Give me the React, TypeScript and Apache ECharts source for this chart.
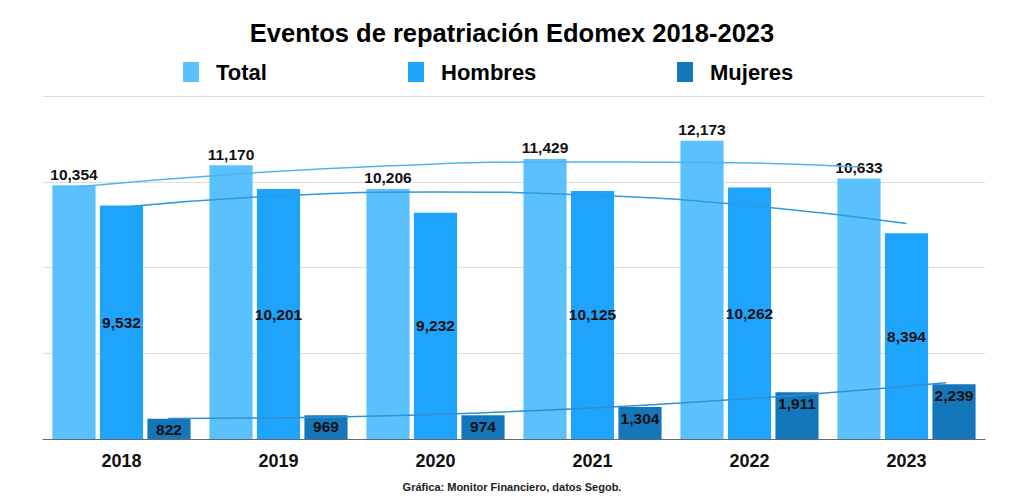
import React, { useEffect, useRef } from "react";
import * as echarts from "echarts";

const years = ["2018", "2019", "2020", "2021", "2022", "2023"];
const total = [10354, 11170, 10206, 11429, 12173, 10633];
const hombres = [9532, 10201, 9232, 10125, 10262, 8394];
const mujeres = [822, 969, 974, 1304, 1911, 2239];
// Trendline values at each year
const totalTrend = [10300, 10810, 11150, 11310, 11290, 11100];
const hombresTrend = [9460, 9920, 10080, 9950, 9525, 8800];
const mujeresTrend = [835, 890, 1065, 1360, 1770, 2300];

const FONT = "'Liberation Sans', Arial, sans-serif";
const C_TOTAL = "#5bc1fc";
const C_HOM = "#1ea4fc";
const C_MUJ = "#1477bb";

const fmt = (v: number) => v.toLocaleString("en-US");

export default function App() {
  const ref = useRef<HTMLDivElement>(null);
  useEffect(() => {
    if (!ref.current) return;
    const chart = echarts.init(ref.current, undefined, { renderer: "svg" });
    const shift = 47.5;
    const gridBase = { top: 96, bottom: 60 };
    const yBase = {
      type: "value" as const,
      min: 0,
      max: 14000,
      interval: 3500,
      axisLabel: { show: false },
      axisLine: { show: false },
      axisTick: { show: false },
    };
    const xHidden = {
      type: "category" as const,
      data: years,
      boundaryGap: true,
      show: false,
    };
    const legendBase = {
      top: 61,
      padding: 0,
      itemWidth: 16,
      itemHeight: 20,
      icon: "rect",
      textStyle: { fontFamily: FONT, fontSize: 22, fontWeight: "bold", color: "#000", padding: [0, 0, 0, 12] },
    };
    chart.setOption({
      animation: false,
      backgroundColor: "#fff",
      title: {
        text: "Eventos de repatriación Edomex 2018-2023",
        left: "center",
        top: 15,
        textStyle: { fontFamily: FONT, fontSize: 25.5, fontWeight: "bold", color: "#000" },
      },
      legend: [
        { ...legendBase, left: 183, data: ["Total"] },
        { ...legendBase, left: 408, data: ["Hombres"] },
        { ...legendBase, left: 677, data: ["Mujeres"] },
      ],
      grid: [
        { ...gridBase, left: 43, right: 39 },
        { ...gridBase, left: 43 - shift, right: 39 + shift },
        { ...gridBase, left: 43 + shift, right: 39 - shift },
      ],
      xAxis: [
        {
          type: "category",
          data: years,
          gridIndex: 0,
          axisTick: { show: false },
          axisLine: { lineStyle: { color: "#666", width: 1 } },
          axisLabel: { fontFamily: FONT, fontSize: 18, fontWeight: "bold", color: "#111", margin: 13 },
        },
        { ...xHidden, gridIndex: 1 },
        { ...xHidden, gridIndex: 2 },
      ],
      yAxis: [
        { ...yBase, gridIndex: 0, splitLine: { lineStyle: { color: "#dddddd", width: 1 } } },
        { ...yBase, gridIndex: 1, splitLine: { show: false } },
        { ...yBase, gridIndex: 2, splitLine: { show: false } },
      ],
      series: [
        {
          name: "Total",
          type: "bar",
          data: total,
          itemStyle: { color: C_TOTAL },
          barGap: "10%",
          barCategoryGap: "12%",
          label: {
            show: true,
            position: "top",
            distance: 3,
            fontFamily: FONT,
            fontSize: 15.5,
            fontWeight: "bold",
            color: "#111",
            formatter: (p: any) => fmt(p.value),
          },
        },
        {
          name: "Hombres",
          type: "bar",
          data: hombres,
          itemStyle: { color: C_HOM },
          barGap: "10%",
          barCategoryGap: "12%",
          label: {
            show: true,
            position: "inside",
            fontFamily: FONT,
            fontSize: 15.5,
            fontWeight: "bold",
            color: "#111",
            formatter: (p: any) => fmt(p.value),
          },
        },
        {
          name: "Mujeres",
          type: "bar",
          data: mujeres,
          itemStyle: { color: C_MUJ },
          barGap: "10%",
          barCategoryGap: "12%",
          label: {
            show: true,
            position: "insideTop",
            distance: 3,
            fontFamily: FONT,
            fontSize: 15.5,
            fontWeight: "bold",
            color: "#111",
            formatter: (p: any) => fmt(p.value),
          },
        },
        {
          name: "Tendencia Total",
          type: "line",
          xAxisIndex: 1,
          yAxisIndex: 1,
          data: totalTrend,
          smooth: true,
          symbol: "none",
          z: 5,
          lineStyle: { color: "#4fb3ef", width: 1.5 },
          silent: true,
        },
        {
          name: "Tendencia Hombres",
          type: "line",
          xAxisIndex: 0,
          yAxisIndex: 0,
          data: hombresTrend,
          smooth: true,
          symbol: "none",
          z: 5,
          lineStyle: { color: "#2b9be6", width: 1.5 },
          silent: true,
        },
        {
          name: "Tendencia Mujeres",
          type: "line",
          xAxisIndex: 2,
          yAxisIndex: 2,
          data: mujeresTrend,
          smooth: true,
          symbol: "none",
          z: 5,
          lineStyle: { color: "#2f8fd6", width: 1.5 },
          silent: true,
        },
      ],
      graphic: [
        {
          type: "text",
          left: "center",
          top: 481,
          style: {
            text: "Gráfica: Monitor Financiero, datos Segob.",
            fontFamily: FONT,
            fontSize: 11,
            fontWeight: "bold",
            fill: "#222",
          },
        },
      ],
    });
    return () => chart.dispose();
  }, []);
  return <div ref={ref} style={{ width: 1024, height: 499, position: "absolute", left: 0, top: 0 }} />;
}
